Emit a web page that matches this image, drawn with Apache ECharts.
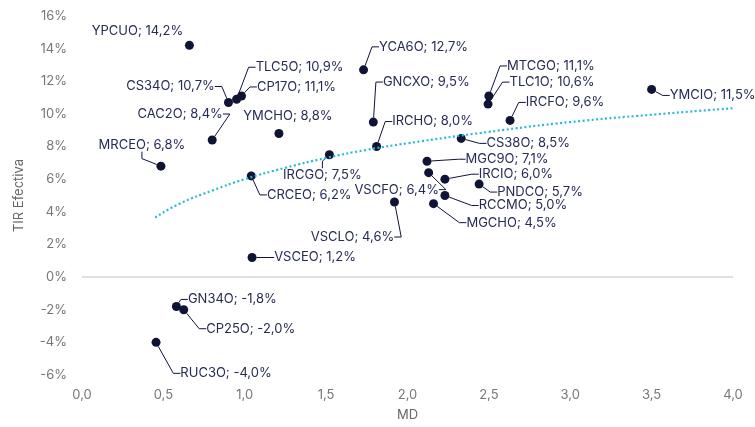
<!DOCTYPE html>
<head>
    <meta charset="utf-8">
    <title>TIR vs MD</title>
    <script src="https://cdn.jsdelivr.net/npm/echarts@6/dist/echarts.min.js"></script>
</head>
<body style="margin:0">
    <div id="container" style="width:755px;height:427px"></div>
    <script type="text/javascript">

        // bonos: nombre, MD (x), TIR en % (y)
        var names = ['YPCUO', 'CS34O', 'TLC5O', 'CP17O', 'CAC2O', 'MRCEO', 'YMCHO', 'CRCEO', 'IRCGO',
                     'VSCFO', 'YCA6O', 'GNCXO', 'IRCHO', 'MTCGO', 'TLC1O', 'IRCFO', 'YMCIO', 'CS38O',
                     'MGC9O', 'IRCIO', 'PNDCO', 'RCCMO', 'MGCHO', 'VSCLO', 'VSCEO', 'GN34O', 'CP25O', 'RUC3O'];
        var md = [0.66, 0.90, 0.95, 0.98, 0.80, 0.485, 1.21, 1.04, 1.52,
                  2.13, 1.73, 1.79, 1.81, 2.50, 2.495, 2.63, 3.50, 2.33,
                  2.12, 2.23, 2.44, 2.23, 2.16, 1.92, 1.045, 0.58, 0.625, 0.455];
        var tir = [14.2, 10.7, 10.9, 11.1, 8.4, 6.8, 8.8, 6.2, 7.5,
                   6.4, 12.7, 9.5, 8.0, 11.1, 10.6, 9.6, 11.5, 8.5,
                   7.1, 6.0, 5.7, 5.0, 4.5, 4.6, 1.2, -1.8, -2.0, -4.0];

        // curva de tendencia
        var trendX = [0.45, 0.6, 0.8, 1.0, 1.25, 1.5, 1.75, 2.0, 2.5, 3.0, 3.5, 4.0];
        var trendY = [3.65, 4.5, 5.3, 6.0, 6.7, 7.3, 7.8, 8.2, 8.9, 9.5, 9.95, 10.35];

        var xTicks = ['0,0', '0,5', '1,0', '1,5', '2,0', '2,5', '3,0', '3,5', '4,0'];

        // desplazamiento de etiquetas (px) respecto del punto
        var labelOffsets = {
            YPCUO: [-52, -14], CS34O: [-58, -16], TLC5O: [63, -32], CP17O: [55, -9],
            CAC2O: [-32, -26], MRCEO: [-19, -21], YMCHO: [9, -17], CRCEO: [58, 19],
            IRCGO: [-7, 20], VSCFO: [-32, 17], YCA6O: [60, -23], GNCXO: [53, -40],
            IRCHO: [56, -25], MTCGO: [62, -30], TLC1O: [64, -22], IRCFO: [55, -18],
            YMCIO: [61, 6], CS38O: [67, 5], MGC9O: [80, -2], IRCIO: [71, -5],
            PNDCO: [61, 8], RCCMO: [78, 10], MGCHO: [78, 19], VSCLO: [-42, 35],
            VSCEO: [63, 0], GN34O: [56, -7], CP25O: [67, 19], RUC3O: [70, 31]
        };
        var noLine = ['YPCUO', 'YMCHO'];

        var navy = '#0f1437';
        var textNavy = '#262b55';

        var points = [];
        for (var i = 0; i < names.length; i++) {
            var item = { name: names[i], value: [md[i], tir[i]] };
            if (noLine.indexOf(names[i]) >= 0) item.labelLine = { show: false };
            points.push(item);
        }
        var trend = [];
        for (var j = 0; j < trendX.length; j++) trend.push([trendX[j], trendY[j]]);

        function comma(v) { return v.toFixed(1).replace('.', ','); }

        var dom = document.getElementById("container");
        var myChart = echarts.init(dom);

        var option = {
            animation: false,
            textStyle: { fontFamily: 'Inter' },
            grid: { left: 82, right: 22, top: 16, bottom: 47 },
            xAxis: {
                type: 'value', min: 0, max: 4, interval: 0.5,
                name: 'MD', nameLocation: 'middle', nameGap: 34,
                nameTextStyle: { color: '#666', fontSize: 13, fontFamily: 'Inter' },
                axisLine: { show: false }, axisTick: { show: false }, splitLine: { show: false },
                axisLabel: {
                    color: '#777', fontSize: 13, margin: 14,
                    formatter: function (v) { return xTicks[Math.round(v / 0.5)]; }
                }
            },
            yAxis: {
                type: 'value', min: -6, max: 16, interval: 2,
                name: 'TIR Efectiva', nameLocation: 'middle', nameGap: 56,
                nameTextStyle: { color: '#666', fontSize: 13, fontFamily: 'Inter' },
                axisLine: { show: false }, axisTick: { show: false }, splitLine: { show: false },
                axisLabel: { color: '#777', fontSize: 13, margin: 15, formatter: '{value}%' }
            },
            series: [
                {
                    type: 'scatter',
                    symbolSize: 9,
                    itemStyle: { color: navy, opacity: 1 },
                    data: points,
                    label: {
                        show: true, position: 'inside', color: textNavy, fontSize: 13,
                        fontFamily: 'Inter', padding: [1, 3],
                        formatter: function (p) { return p.name + '; ' + comma(p.value[1]) + '%'; }
                    },
                    labelLine: { show: true, length2: 7, lineStyle: { color: navy, width: 1 } },
                    labelLayout: function (p) {
                        var o = labelOffsets[names[p.dataIndex]];
                        return { dx: o[0], dy: o[1] };
                    },
                    markLine: {
                        silent: true, symbol: 'none', label: { show: false },
                        lineStyle: { color: '#d4d4d4', width: 1.5, type: 'solid' },
                        data: [{ yAxis: 0 }]
                    },
                    z: 2
                },
                {
                    type: 'line',
                    data: trend,
                    smooth: true,
                    showSymbol: false,
                    lineStyle: { color: '#29b9d9', width: 2.2, type: [2, 2.5] },
                    z: 3
                }
            ]
        };
        myChart.setOption(option);

    </script>
</body>
